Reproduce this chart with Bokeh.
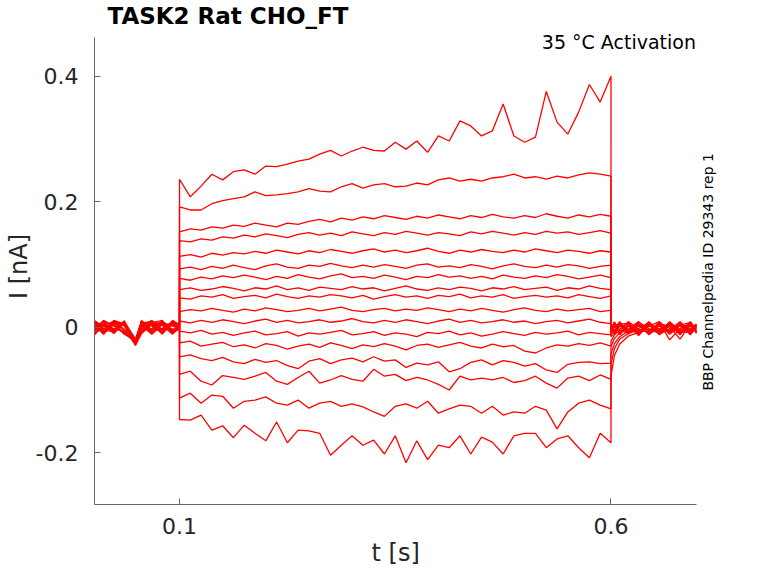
from math import pi

from bokeh.plotting import figure
from bokeh.models import Range1d, FixedTicker, Label, Title
from bokeh.embed import file_html
from bokeh.resources import INLINE

# sample times (s): before, during and after the voltage step
t_pre = [0.0015, 0.012, 0.024, 0.036, 0.044, 0.049, 0.056, 0.068, 0.080, 0.092, 0.1]
t_step = [0.1, 0.1125, 0.125, 0.1375, 0.15, 0.1625, 0.175, 0.1875, 0.2, 0.2125,
          0.225, 0.2375, 0.25, 0.2625, 0.275, 0.2875, 0.3, 0.3125, 0.325, 0.3375,
          0.35, 0.3625, 0.375, 0.3875, 0.4, 0.4125, 0.425, 0.4375, 0.45, 0.4625,
          0.475, 0.4875, 0.5, 0.5125, 0.525, 0.5375, 0.55, 0.5625, 0.575, 0.5875, 0.6]
t_post = [0.6, 0.604, 0.61, 0.62, 0.632, 0.644, 0.656, 0.668, 0.68, 0.692, 0.699]
time_s = t_pre + t_step + t_post

# current of each sweep in pA: pre / step / post
sweep_01 = ([6, -8, 9, -3, -12, -22, 4, -9, 10, -5, 2] +
            [236, 208, 225, 244, 235, 248, 251, 244, 257, 256, 260, 265, 268, 276, 282, 273, 281,
             287, 282, 281, 295, 284, 297, 279, 305, 297, 329, 321, 305, 313, 356, 305, 295, 303,
             376, 327, 308, 343, 387, 359, 400] +
            [-8, 6, -10, 3, -13, 5, -7, 8, -11, 2, -5])
sweep_02 = ([-9, 4, -10, 7, -16, -25, -6, 8, -4, 7, -2] +
            [192, 187, 187, 197, 202, 205, 208, 216, 210, 211, 213, 216, 221, 217, 216, 224, 229,
             222, 227, 229, 224, 225, 230, 227, 235, 238, 233, 236, 233, 238, 240, 244, 238, 240,
             236, 241, 238, 243, 246, 244, 241] +
            [4, -10, 8, -5, 6, -12, 3, -8, 5, -10, 0])
sweep_03 = ([10, 2, -6, 9, -8, -19, 8, -10, 5, -8, 3] +
            [152, 157, 155, 160, 158, 163, 161, 166, 163, 160, 166, 164, 169, 172, 168, 174, 171,
             176, 173, 178, 175, 172, 177, 174, 179, 176, 173, 178, 175, 180, 176, 174, 178, 175,
             181, 177, 174, 179, 176, 180, 177] +
            [-11, 2, -7, 9, -3, -8, 8, -20, -2, 6, -7])
sweep_04 = ([-4, 9, 3, -10, -18, -27, -2, 6, -11, 9, 0] +
            [138, 136, 141, 139, 144, 142, 147, 144, 149, 146, 143, 148, 151, 147, 150, 146, 152,
             149, 146, 151, 148, 153, 150, 147, 151, 149, 146, 152, 149, 153, 150, 147, 151, 148,
             153, 150, 152, 148, 151, 154, 150] +
            [6, -5, 5, -11, 8, -2, -10, 5, -7, -3, 3])
sweep_05 = ([2, -10, 11, 5, -10, -20, 10, -4, 7, -7, -3] +
            [113, 116, 112, 118, 115, 119, 117, 121, 118, 123, 120, 117, 122, 119, 124, 121, 118,
             122, 125, 120, 123, 119, 122, 126, 121, 118, 123, 120, 124, 121, 119, 123, 120, 125,
             122, 119, 123, 121, 118, 122, 120] +
            [-5, 9, -12, 2, -10, 6, -3, -7, 9, -11, -1])
sweep_06 = ([-11, 5, -2, -7, -15, -28, 2, 11, -5, 4, 5] +
            [93, 96, 92, 97, 94, 99, 95, 92, 98, 101, 96, 94, 99, 97, 102, 98, 95, 99, 96, 100,
             97, 94, 99, 101, 96, 98, 95, 100, 97, 93, 98, 101, 97, 95, 99, 96, 100, 98, 94, 97, 99] +
            [2, -8, 3, -7, 5, -11, 6, 1, -19, 5, -8])
sweep_07 = ([7, -4, 10, 2, -13, -23, -9, 7, 11, -10, -2] +
            [78, 75, 80, 77, 82, 79, 83, 80, 76, 81, 78, 84, 80, 77, 82, 85, 79, 81, 78, 83, 80,
             76, 81, 79, 84, 80, 82, 78, 81, 77, 83, 80, 78, 82, 79, 84, 81, 77, 80, 83, 79] +
            [-10, 5, -3, 8, -12, 3, -8, 9, -5, -2, 5])
sweep_08 = ([-5, 10, -8, 8, -9, -21, 5, -7, -2, 9, 3] +
            [60, 63, 59, 61, 65, 62, 58, 63, 61, 66, 60, 63, 59, 64, 62, 60, 65, 61, 63, 58, 62,
             66, 61, 59, 63, 60, 64, 62, 58, 63, 61, 65, 60, 62, 64, 59, 63, 61, 66, 62, 60] +
            [8, -7, 9, -10, 2, -5, 5, -11, 3, 8, -10])
sweep_09 = ([11, -2, 5, -11, -17, -26, 9, 2, -9, 5, -4] +
            [47, 45, 50, 48, 52, 46, 49, 51, 47, 53, 49, 46, 50, 48, 52, 50, 47, 51, 45, 49, 52,
             48, 50, 46, 51, 49, 53, 47, 50, 48, 52, 46, 49, 51, 48, 50, 47, 52, 49, 46, 50] +
            [-3, 8, -11, 5, -7, 9, -12, 3, -8, -5, 2])
sweep_10 = ([-7, 7, -4, 10, -12, -18, -3, 10, 3, -11, 2] +
            [25, 28, 26, 30, 27, 24, 29, 26, 31, 28, 25, 27, 30, 26, 29, 32, 27, 25, 28, 30, 26,
             29, 27, 31, 28, 25, 29, 26, 30, 27, 24, 28, 31, 27, 25, 29, 26, 28, 30, 25, 27] +
            [5, -11, 2, -3, 9, -7, 2, -5, 6, -12, 3])
sweep_11 = ([3, -11, 7, -5, -16, -27, 11, -5, 8, 2, -3] +
            [10, 7, 11, 8, 12, 9, 6, 10, 13, 8, 11, 7, 9, 12, 8, 10, 14, 9, 7, 11, 8, 12, 9, 6,
             10, 13, 8, 11, 7, 9, 12, 8, 10, 6, 9, 11, 7, 10, 13, 8, 6] +
            [-12, 3, 6, -8, -2, 8, -5, 6, -10, 3, -6])
sweep_12 = ([-10, 2, 10, 3, -11, -22, -7, 8, -10, 6, 3] +
            [-6, -9, -5, -11, -8, -13, -9, -6, -12, -10, -7, -14, -9, -11, -8, -5, -12, -10, -7,
             -13, -9, -11, -15, -8, -10, -6, -12, -9, -14, -11, -7, -10, -13, -8, -11, -9, -6,
             -12, -8, -10, -12] +
            [-15, -8, 5, 6, -11, 2, 9, -8, 2, -7, 5])
sweep_13 = ([8, -5, -7, 6, -14, -24, 3, -11, 5, -3, -2] +
            [-25, -22, -30, -27, -24, -31, -28, -33, -26, -29, -35, -30, -27, -32, -25, -29, -34,
             -28, -31, -26, -30, -36, -29, -27, -32, -28, -24, -30, -33, -27, -31, -29, -38, -41,
             -33, -28, -30, -26, -29, -25, -30] +
            [-22, -12, -5, -9, 3, -10, -2, 5, -12, 9, -3])
sweep_14 = ([-2, 11, 2, -8, -13, -20, 9, 3, -7, 11, 4] +
            [-47, -44, -50, -53, -48, -55, -58, -51, -56, -53, -61, -66, -54, -50, -58, -52, -49,
             -55, -47, -54, -52, -64, -57, -60, -55, -71, -66, -56, -52, -60, -53, -56, -62, -58,
             -68, -72, -59, -56, -55, -58, -57] +
            [-30, -18, -9, 2, -8, 6, -11, -3, 8, -5, 0])
sweep_15 = ([5, -8, 8, 5, -17, -26, -5, -2, 10, -8, 0] +
            [-75, -70, -86, -92, -77, -80, -83, -78, -72, -86, -91, -80, -70, -89, -84, -77, -83,
             -86, -67, -78, -75, -85, -80, -84, -91, -100, -78, -84, -81, -84, -80, -88, -85, -78,
             -89, -97, -81, -78, -85, -76, -83] +
            [-42, -26, -15, -6, 5, -5, 3, -9, -2, 6, -8])
sweep_16 = ([-12, 3, -5, 10, -12, -23, 7, 9, -3, 5, -3] +
            [-113, -105, -121, -108, -110, -129, -118, -116, -111, -121, -124, -116, -129, -121,
             -118, -126, -122, -127, -135, -142, -126, -122, -129, -118, -137, -130, -124, -126,
             -137, -126, -140, -135, -137, -126, -132, -162, -135, -121, -116, -124, -130] +
            [-58, -34, -19, -10, -4, -8, 8, -2, -6, -9, 3])
sweep_17 = ([9, -3, 3, -9, -18, -29, -10, 5, 8, -6, 1] +
            [-147, -148, -140, -164, -157, -176, -156, -169, -181, -151, -184, -164, -165, -169,
             -204, -188, -173, -188, -180, -202, -173, -216, -181, -211, -188, -192, -173, -202,
             -175, -183, -202, -173, -169, -169, -192, -178, -173, -192, -208, -169, -184] +
            [-78, -45, -27, -14, -8, 2, -6, 6, -5, 3, -5])

sweeps = [sweep_01, sweep_02, sweep_03, sweep_04, sweep_05, sweep_06, sweep_07, sweep_08,
          sweep_09, sweep_10, sweep_11, sweep_12, sweep_13, sweep_14, sweep_15, sweep_16, sweep_17]

x_ticks = [0.1, 0.6]
y_ticks = [-0.2, 0, 0.2, 0.4]
y_tick_labels = ["-0.2", "0", "0.2", "0.4"]

FONT = "DejaVu Sans"
TEXT = "#262626"
AXIS = "#666666"

# the frame reaches a little above and right of the axes box so that the two
# notes fit inside it; the axis lines themselves stop at the box (bounds)
p = figure(width=762, height=567,
           x_range=Range1d(0.0015, 0.7269), y_range=Range1d(-0.2825, 0.4763),
           output_backend="svg", toolbar_location=None,
           min_border_left=94, min_border_right=42, min_border_top=26, min_border_bottom=63)

p.grid.visible = False
p.outline_line_color = None

p.title.text = "TASK2  Rat  CHO_FT"
p.title.align = "left"
p.title.offset = 13
p.title.standoff = 0
p.title.text_font = FONT
p.title.text_font_size = "23px"
p.title.text_font_style = "bold"
p.title.text_color = "black"

for s in sweeps:
    p.line(time_s, [v / 1000 for v in s], line_color="#ff0000", line_width=1.3)

# axes
for ax in (p.xaxis[0], p.yaxis[0]):
    ax.axis_line_color = AXIS
    ax.major_tick_line_color = AXIS
    ax.major_tick_in = 6
    ax.major_tick_out = 0
    ax.minor_tick_line_color = None
    ax.major_label_text_font = FONT
    ax.major_label_text_font_size = "22px"
    ax.major_label_text_color = TEXT
    ax.axis_label_text_font = FONT
    ax.axis_label_text_font_size = "24px"
    ax.axis_label_text_font_style = "normal"
    ax.axis_label_text_color = TEXT

p.xaxis.ticker = FixedTicker(ticks=x_ticks)
p.xaxis.bounds = (0.0015, 0.699)
p.xaxis.major_label_overrides = {0.1: "0.1", 0.6: "0.6"}
p.xaxis.major_label_standoff = 13

# x label as a title below the axis, placed under the middle of the axes box
p.add_layout(Title(text="t [s]", align="left", offset=277, standoff=0,
                   vertical_align="bottom", text_font=FONT, text_font_size="24px",
                   text_font_style="normal", text_color=TEXT), "below")

p.yaxis.ticker = FixedTicker(ticks=y_ticks)
p.yaxis.bounds = (-0.2825, 0.462)
p.yaxis.major_label_overrides = dict(zip(y_ticks, y_tick_labels))
p.yaxis.axis_label = "I [nA]"
p.yaxis.major_label_standoff = 16
p.yaxis.axis_label_standoff = 0

p.add_layout(Label(x=0.7055, y=0.455, text="35 °C  Activation",
                   text_font=FONT, text_font_size="19px", text_color="black",
                   text_align="right", text_baseline="alphabetic"))
p.add_layout(Label(x=0.7124, y=0.0884, text="BBP Channelpedia ID 29343 rep 1",
                   angle=pi / 2, text_font=FONT, text_font_size="14px", text_color="black",
                   text_align="center", text_baseline="alphabetic"))

open("out.html", "w").write(file_html(p, INLINE))
